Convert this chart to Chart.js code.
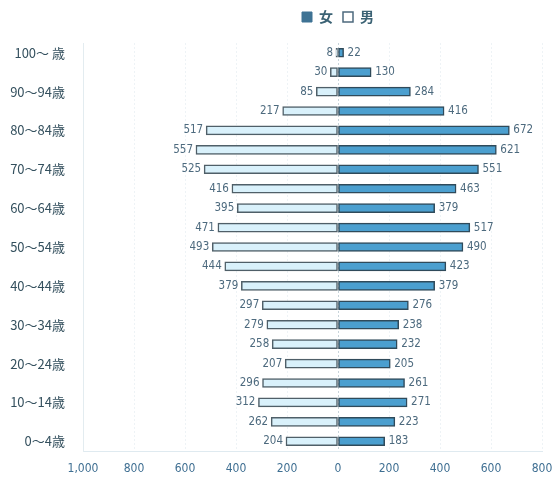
<!DOCTYPE html>
<html><head><meta charset="utf-8">
<script src="https://cdn.jsdelivr.net/npm/chart.js@4"></script>
<style>html,body{margin:0;padding:0;background:#fff}#wrap{width:556px;height:479px}</style>
</head><body><div id="wrap"><canvas id="c" width="556" height="479"></canvas></div>
<script>
const ageLabels = ['100～ 歳','95～99歳','90～94歳','85～89歳','80～84歳','75～79歳','70～74歳','65～69歳','60～64歳','55～59歳','50～54歳','45～49歳','40～44歳','35～39歳','30～34歳','25～29歳','20～24歳','15～19歳','10～14歳','5～9歳','0～4歳'];
const female = [8,30,85,217,517,557,525,416,395,471,493,444,379,297,279,258,207,296,312,262,204];
const male = [22,130,284,416,672,621,551,463,379,517,490,423,379,276,238,232,205,261,271,223,183];
const xTicks = [-1000,-800,-600,-400,-200,0,200,400,600,800];

const labelPlugin = {
  id:'vals',
  afterInit(chart){
    if(chart.legend){
      const orig = chart.legend.fit;
      chart.legend.fit = function(){ orig.call(this); this.height += 9; };
    }
  },
  beforeDraw(chart){
    if(chart.legend){ chart.legend.left = 2*chart.scales.x.getPixelForValue(0) - chart.legend.right; }
  },
  afterDatasetsDraw(chart){
    const ctx = chart.ctx;
    ctx.save();
    ctx.font = '11.5px "DejaVu Sans Condensed", "DejaVu Sans", sans-serif';
    ctx.fillStyle = '#4d6a7e';
    ctx.textBaseline = 'middle';
    chart.data.datasets.forEach((ds,di)=>{
      const meta = chart.getDatasetMeta(di);
      meta.data.forEach((bar,i)=>{
        const v = di===0 ? female[i] : male[i];
        if(di===0){ ctx.textAlign='right'; ctx.fillText(String(v), bar.x-3, bar.y); }
        else { ctx.textAlign='left'; ctx.fillText(String(v), bar.x+4, bar.y); }
      });
    });
    ctx.restore();
  }
};

new Chart(document.getElementById('c'),{
  type:'bar',
  data:{labels:ageLabels,datasets:[
    {label:'女',data:female.map(v=>-v),backgroundColor:'#d9f1fb',borderColor:'#4f5f68',borderWidth:1.5,borderSkipped:false,barThickness:9},
    {label:'男',data:male,backgroundColor:'#4b9fcf',borderColor:'#2f4a5a',borderWidth:1.5,borderSkipped:false,barThickness:9}
  ]},
  options:{
    indexAxis:'y',responsive:false,animation:false,
    layout:{padding:{left:0,right:14,top:0,bottom:0}},
    plugins:{
      tooltip:{enabled:false},
      legend:{position:'top',labels:{
        boxWidth:10,boxHeight:10,font:{size:14,family:'"Noto Sans CJK JP"',weight:'bold'},color:'#3b6274',padding:10,
        generateLabels(){return [
          {text:'女',fillStyle:'#3f7394',strokeStyle:'#3f7394',lineWidth:1,fontColor:'#3b6274'},
          {text:'男',fillStyle:'#ffffff',strokeStyle:'#4d6a7e',lineWidth:1.5,fontColor:'#3b6274'}
        ];}
      }}
    },
    scales:{
      x:{stacked:true,min:-1000,max:800,
        afterBuildTicks(s){s.ticks=xTicks.map(v=>({value:v}));},
        afterFit(s){s.height=28;s.paddingLeft=0;s.paddingRight=0;},
        ticks:{callback:v=>Math.abs(v).toLocaleString('en-US'),color:'#3f6f92',font:{size:12,family:'"DejaVu Sans Condensed", "DejaVu Sans"'},padding:11},
        grid:{color:c=>c.tick&&c.tick.value===0?'#c8d4da':'#eef3f6',lineWidth:1,drawTicks:false},
        border:{display:true,color:'#dfeaf0',dash:[2,2]}
      },
      y:{stacked:true,
        afterFit(s){s.width=83;},
        ticks:{autoSkip:false,callback:function(v,i){return i%2===0?this.getLabelForValue(v):'';},color:'#34505e',font:{size:13,family:'"Noto Sans CJK JP"'},padding:10},
        grid:{display:false},
        border:{display:true,color:'#e3ecf0',dash:[2,2]}
      }
    }
  },
  plugins:[labelPlugin]
});
</script></body></html>
